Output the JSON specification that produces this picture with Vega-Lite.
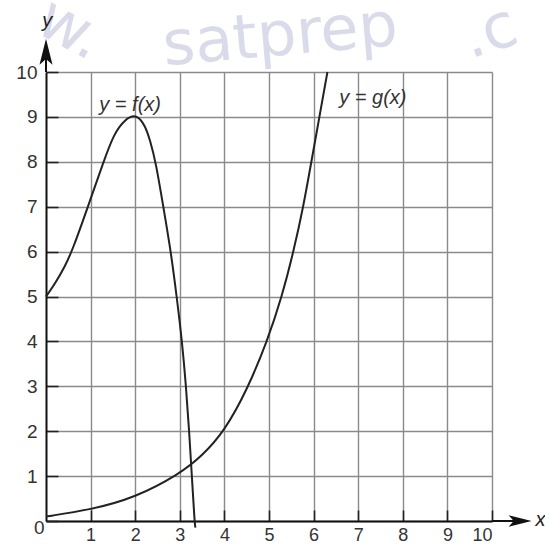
{
  "$schema": "https://vega.github.io/schema/vega-lite/v6.json",
  "width": 446,
  "height": 449,
  "autosize": {"type": "none"},
  "padding": {"left": 46, "top": 72, "right": 53, "bottom": 23},
  "background": "white",
  "config": {"view": {"stroke": null}},
  "layer": [
    {
      "data": {"values": [
        {"x": 0.55, "y": 10.95, "label": "w.", "angle": 28},
        {"x": 5.25, "y": 10.8, "label": "satprep", "angle": -5},
        {"x": 9.95, "y": 10.88, "label": ".c", "angle": -18}
      ]},
      "mark": {"type": "text", "font": "DejaVu Sans", "fontSize": 62, "color": "#dadbea", "baseline": "middle", "align": "center"},
      "encoding": {
        "x": {"field": "x", "type": "quantitative",
          "scale": {"domain": [0, 10], "nice": false, "zero": false},
          "axis": {
            "title": null,
            "values": [1, 2, 3, 4, 5, 6, 7, 8, 9, 10],
            "grid": true, "gridColor": "#8a8a8a", "gridWidth": 1.4,
            "domainColor": "#111", "domainWidth": 2,
            "ticks": true, "tickSize": -11, "tickColor": "#222", "tickWidth": 1.6,
            "labelFont": "Liberation Sans", "labelFontSize": 18, "labelColor": "#333",
            "labelPadding": 16, "labelBaseline": "top"
          }
        },
        "y": {"field": "y", "type": "quantitative",
          "scale": {"domain": [0, 10], "nice": false, "zero": false},
          "axis": {
            "title": null,
            "values": [0, 1, 2, 3, 4, 5, 6, 7, 8, 9, 10],
            "grid": true, "gridColor": "#8a8a8a", "gridWidth": 1.4,
            "domainColor": "#111", "domainWidth": 2,
            "ticks": true, "tickSize": -12, "tickColor": "#222", "tickWidth": 1.6,
            "labelFont": "Liberation Sans", "labelFontSize": 19, "labelColor": "#333",
            "labelPadding": {"condition": {"test": "datum.value == 0", "value": 14}, "value": 21},
            "labelOffset": {"condition": {"test": "datum.value == 0", "value": 6}, "value": 0}
          }
        },
        "text": {"field": "label"},
        "angle": {"field": "angle", "type": "quantitative", "scale": null}
      }
    },
    {
      "data": {"values": [
        {"x": 0, "y": 5}, {"x": 0.2, "y": 5.28}, {"x": 0.43, "y": 5.68}, {"x": 0.6, "y": 6.05},
        {"x": 0.94, "y": 7}, {"x": 1.29, "y": 8}, {"x": 1.52, "y": 8.62}, {"x": 1.77, "y": 8.95},
        {"x": 2.03, "y": 9.07}, {"x": 2.23, "y": 8.8}, {"x": 2.34, "y": 8.45}, {"x": 2.46, "y": 8},
        {"x": 2.63, "y": 7}, {"x": 2.8, "y": 6}, {"x": 2.93, "y": 5}, {"x": 3.05, "y": 4},
        {"x": 3.14, "y": 3}, {"x": 3.21, "y": 2}, {"x": 3.27, "y": 1}, {"x": 3.33, "y": 0},
        {"x": 3.35, "y": -0.15}
      ]},
      "mark": {"type": "line", "color": "#222", "strokeWidth": 2, "interpolate": "basis", "clip": false},
      "encoding": {
        "x": {"field": "x", "type": "quantitative"},
        "y": {"field": "y", "type": "quantitative"}
      }
    },
    {
      "data": {"values": [
        {"x": 0, "y": 0.1}, {"x": 1, "y": 0.25}, {"x": 2, "y": 0.52}, {"x": 3, "y": 1.05},
        {"x": 3.5, "y": 1.45}, {"x": 4, "y": 2.0}, {"x": 4.5, "y": 2.9}, {"x": 4.96, "y": 4},
        {"x": 5.29, "y": 5}, {"x": 5.55, "y": 6}, {"x": 5.77, "y": 7}, {"x": 5.95, "y": 8},
        {"x": 6.13, "y": 9}, {"x": 6.31, "y": 10}
      ]},
      "mark": {"type": "line", "color": "#222", "strokeWidth": 2, "interpolate": "basis", "clip": false},
      "encoding": {
        "x": {"field": "x", "type": "quantitative"},
        "y": {"field": "y", "type": "quantitative"}
      }
    },
    {
      "data": {"values": [
        {"x": 0, "y": 10, "x2": 0, "y2": 10.5},
        {"x": 10, "y": 0, "x2": 10.5, "y2": 0}
      ]},
      "mark": {"type": "rule", "color": "#111", "strokeWidth": 2},
      "encoding": {
        "x": {"field": "x", "type": "quantitative"},
        "y": {"field": "y", "type": "quantitative"},
        "x2": {"field": "x2"},
        "y2": {"field": "y2"}
      }
    },
    {
      "data": {"values": [{"x": 0, "y": 10.45}]},
      "mark": {"type": "point", "filled": true, "color": "#111", "opacity": 1, "size": 676,
        "shape": "M0,-1 L0.5,1 L0,0.55 L-0.5,1 Z"},
      "encoding": {
        "x": {"field": "x", "type": "quantitative"},
        "y": {"field": "y", "type": "quantitative"}
      }
    },
    {
      "data": {"values": [{"x": 10.63, "y": 0}]},
      "mark": {"type": "point", "filled": true, "color": "#111", "opacity": 1, "size": 529,
        "shape": "M1,0 L-1,-0.5 L-0.55,0 L-1,0.5 Z"},
      "encoding": {
        "x": {"field": "x", "type": "quantitative"},
        "y": {"field": "y", "type": "quantitative"}
      }
    },
    {
      "data": {"values": [
        {"x": 1.886, "y": 9.26, "label": "y = f(x)"},
        {"x": 7.33, "y": 9.42, "label": "y = g(x)"}
      ]},
      "mark": {"type": "text", "font": "Liberation Sans", "fontSize": 20, "fontStyle": "italic", "color": "#333", "baseline": "middle", "align": "center"},
      "encoding": {
        "x": {"field": "x", "type": "quantitative"},
        "y": {"field": "y", "type": "quantitative"},
        "text": {"field": "label"}
      }
    },
    {
      "data": {"values": [
        {"x": 0.03, "y": 11.14, "label": "y"},
        {"x": 11.09, "y": 0.02, "label": "x"}
      ]},
      "mark": {"type": "text", "font": "Liberation Sans", "fontSize": 20, "fontStyle": "italic", "color": "#222", "baseline": "middle", "align": "center"},
      "encoding": {
        "x": {"field": "x", "type": "quantitative"},
        "y": {"field": "y", "type": "quantitative"},
        "text": {"field": "label"}
      }
    }
  ]
}
